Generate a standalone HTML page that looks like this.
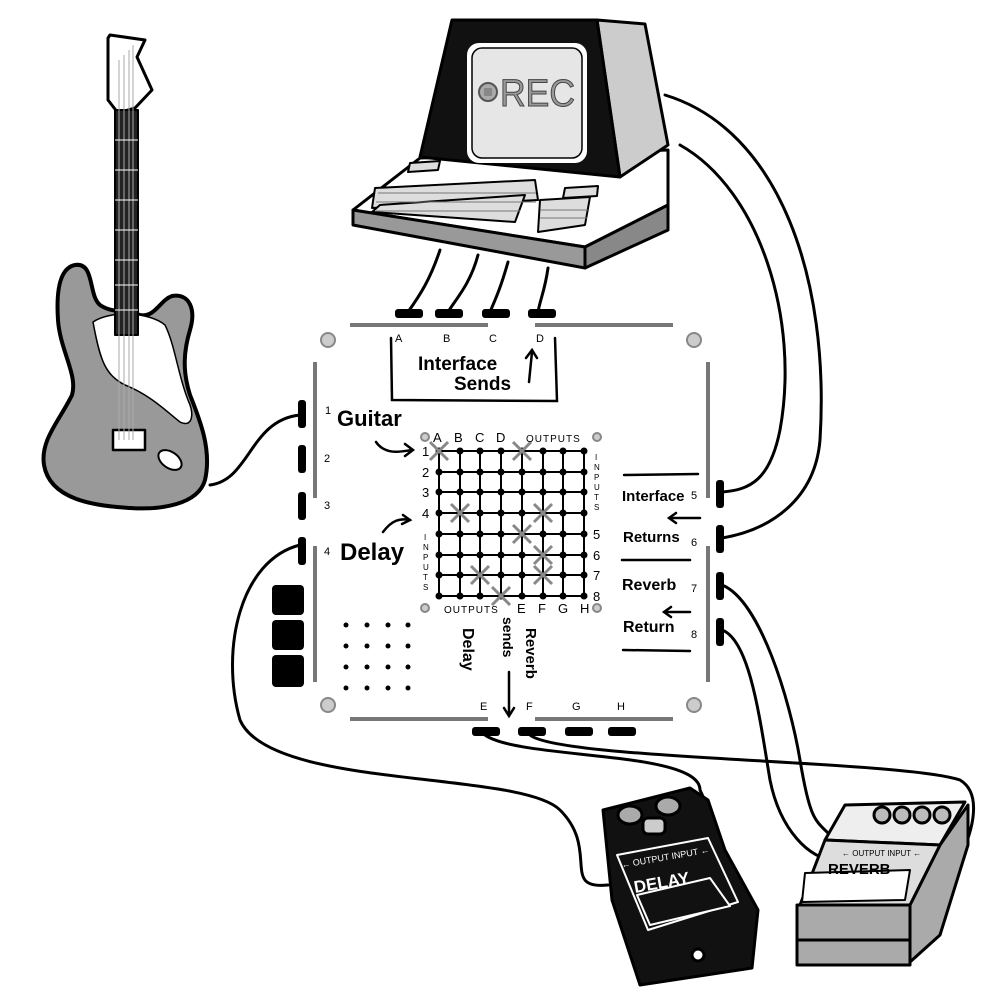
<!DOCTYPE html>
<html><head><meta charset="utf-8"><style>
html,body{margin:0;padding:0;background:#fff}
svg{display:block}
.h{font-family:"Liberation Sans",sans-serif;font-weight:bold}
.s{font-family:"Liberation Sans",sans-serif}
</style></head><body>
<svg width="1000" height="1000" viewBox="0 0 1000 1000" xmlns="http://www.w3.org/2000/svg">
<rect width="1000" height="1000" fill="#fff"/>
<!-- cables -->
<g fill="none" stroke="#000" stroke-width="3" stroke-linecap="round">
<path d="M210,485 C250,480 250,420 300,415"/>
<path d="M440,250 C430,280 420,295 408,312"/>
<path d="M478,255 C470,285 455,300 448,312"/>
<path d="M508,262 C500,290 495,300 490,312"/>
<path d="M548,268 C545,290 540,300 538,312"/>
<path d="M665,95 C780,130 830,280 820,440 C815,500 770,530 722,538"/>
<path d="M680,145 C760,190 800,320 780,430 C770,480 750,490 722,492"/>
<path d="M300,545 C240,560 220,650 240,720 C270,790 520,770 560,810 C600,850 560,890 608,885"/>
<path d="M485,735 C520,760 700,750 700,790 C720,830 700,860 710,840"/>
<path d="M530,735 C560,760 900,760 960,780 C985,795 970,840 958,860"/>
<path d="M722,585 C760,600 790,700 800,760 C810,820 815,820 830,835"/>
<path d="M722,630 C750,640 760,720 770,780 C780,830 810,860 835,860"/>
</g>
<!-- panel -->
<rect x="300" y="318" width="420" height="418" fill="#fff"/>
<g stroke="#777" stroke-width="4">
<line x1="350" y1="325" x2="488" y2="325"/><line x1="535" y1="325" x2="673" y2="325"/>
<line x1="350" y1="719" x2="488" y2="719"/><line x1="535" y1="719" x2="673" y2="719"/>
<line x1="315" y1="362" x2="315" y2="498"/><line x1="315" y1="546" x2="315" y2="682"/>
<line x1="708" y1="362" x2="708" y2="498"/><line x1="708" y1="546" x2="708" y2="682"/>
</g>
<g fill="#ccc" stroke="#888" stroke-width="2">
<circle cx="328" cy="340" r="7"/><circle cx="694" cy="340" r="7"/>
<circle cx="328" cy="705" r="7"/><circle cx="694" cy="705" r="7"/>
<circle cx="425" cy="437" r="4"/><circle cx="597" cy="437" r="4"/>
<circle cx="425" cy="608" r="4"/><circle cx="597" cy="608" r="4"/>
</g>
<!-- jacks -->
<g fill="#000">
<rect x="298" y="400" width="8" height="28" rx="3"/><rect x="298" y="445" width="8" height="28" rx="3"/>
<rect x="298" y="492" width="8" height="28" rx="3"/><rect x="298" y="537" width="8" height="28" rx="3"/>
<rect x="716" y="480" width="8" height="28" rx="3"/><rect x="716" y="525" width="8" height="28" rx="3"/>
<rect x="716" y="572" width="8" height="28" rx="3"/><rect x="716" y="618" width="8" height="28" rx="3"/>
<rect x="395" y="309" width="28" height="9" rx="3"/><rect x="435" y="309" width="28" height="9" rx="3"/>
<rect x="482" y="309" width="28" height="9" rx="3"/><rect x="528" y="309" width="28" height="9" rx="3"/>
<rect x="472" y="727" width="28" height="9" rx="3"/><rect x="518" y="727" width="28" height="9" rx="3"/>
<rect x="565" y="727" width="28" height="9" rx="3"/><rect x="608" y="727" width="28" height="9" rx="3"/>
<rect x="272" y="585" width="32" height="30" rx="4"/><rect x="272" y="620" width="32" height="30" rx="4"/><rect x="272" y="655" width="32" height="32" rx="4"/>
</g>
<!-- grid -->
<g stroke="#000" stroke-width="2">
<line x1="439" y1="451" x2="439" y2="596"/><line x1="460" y1="451" x2="460" y2="596"/><line x1="480" y1="451" x2="480" y2="596"/><line x1="501" y1="451" x2="501" y2="596"/><line x1="522" y1="451" x2="522" y2="596"/><line x1="543" y1="451" x2="543" y2="596"/><line x1="563" y1="451" x2="563" y2="596"/><line x1="584" y1="451" x2="584" y2="596"/>
<line x1="439" y1="451" x2="584" y2="451"/><line x1="439" y1="472" x2="584" y2="472"/><line x1="439" y1="492" x2="584" y2="492"/><line x1="439" y1="513" x2="584" y2="513"/><line x1="439" y1="534" x2="584" y2="534"/><line x1="439" y1="555" x2="584" y2="555"/><line x1="439" y1="575" x2="584" y2="575"/><line x1="439" y1="596" x2="584" y2="596"/>
</g>
<g fill="#000" id="dots">
</g>
<script>
var g=document.getElementById('dots'),xs=[439,460,480,501,522,543,563,584],ys=[451,472,492,513,534,555,575,596];
xs.forEach(function(x){ys.forEach(function(y){var c=document.createElementNS('http://www.w3.org/2000/svg','circle');c.setAttribute('cx',x);c.setAttribute('cy',y);c.setAttribute('r',3.5);g.appendChild(c);});});
var X=[[439,451],[522,451],[460,513],[543,513],[522,534],[543,555],[480,575],[543,575],[501,596]];
X.forEach(function(p){[[1,1],[1,-1]].forEach(function(d){var l=document.createElementNS('http://www.w3.org/2000/svg','line');l.setAttribute('x1',p[0]-9);l.setAttribute('y1',p[1]-9*d[1]);l.setAttribute('x2',p[0]+9);l.setAttribute('y2',p[1]+9*d[1]);l.setAttribute('stroke','#888');l.setAttribute('stroke-width','3');g.appendChild(l);});});
</script>
<g class="s" font-size="13" fill="#000">
<text x="433" y="442">A</text><text x="454" y="442">B</text><text x="475" y="442">C</text><text x="496" y="442">D</text>
<text x="526" y="442" font-size="10" letter-spacing="1">OUTPUTS</text>
<text x="444" y="613" font-size="10" letter-spacing="1">OUTPUTS</text>
<text x="517" y="613">E</text><text x="538" y="613">F</text><text x="558" y="613">G</text><text x="580" y="613">H</text>
<text x="422" y="456">1</text><text x="422" y="477">2</text><text x="422" y="497">3</text><text x="422" y="518">4</text>
<text x="593" y="539">5</text><text x="593" y="560">6</text><text x="593" y="580">7</text><text x="593" y="601">8</text>
<text x="424" y="540" font-size="8">I</text><text x="423" y="550" font-size="8">N</text><text x="423" y="560" font-size="8">P</text><text x="423" y="570" font-size="8">U</text><text x="423" y="580" font-size="8">T</text><text x="423" y="590" font-size="8">S</text>
<text x="595" y="460" font-size="8">I</text><text x="594" y="470" font-size="8">N</text><text x="594" y="480" font-size="8">P</text><text x="594" y="490" font-size="8">U</text><text x="594" y="500" font-size="8">T</text><text x="594" y="510" font-size="8">S</text>
<text x="395" y="342" font-size="11">A</text><text x="443" y="342" font-size="11">B</text><text x="489" y="342" font-size="11">C</text><text x="536" y="342" font-size="11">D</text>
<text x="480" y="710" font-size="11">E</text><text x="526" y="710" font-size="11">F</text><text x="572" y="710" font-size="11">G</text><text x="617" y="710" font-size="11">H</text>
<text x="325" y="414" font-size="11">1</text><text x="324" y="462" font-size="11">2</text><text x="324" y="509" font-size="11">3</text><text x="324" y="555" font-size="11">4</text>
<text x="691" y="499" font-size="11">5</text><text x="691" y="546" font-size="11">6</text><text x="691" y="592" font-size="11">7</text><text x="691" y="638" font-size="11">8</text>
</g>
<!-- handwritten labels -->
<g class="h" fill="#000">
<text x="337" y="426" font-size="22">Guitar</text>
<text x="340" y="560" font-size="24">Delay</text>
<text x="418" y="370" font-size="19">Interface</text>
<text x="454" y="390" font-size="19">Sends</text>
<text x="622" y="501" font-size="15">Interface</text>
<text x="623" y="542" font-size="15">Returns</text>
<text x="622" y="590" font-size="16">Reverb</text>
<text x="623" y="632" font-size="16">Return</text>
<text transform="translate(463,628) rotate(90)" font-size="16">Delay</text>
<text transform="translate(503,617) rotate(90)" font-size="14">sends</text>
<text transform="translate(526,628) rotate(90)" font-size="15">Reverb</text>
</g>
<g fill="none" stroke="#000" stroke-width="2.5" stroke-linecap="round">
<path d="M391,338 L392,400 L557,401 L555,338"/>
<path d="M376,442 C385,455 400,452 412,450"/><path d="M405,444 L413,450 L405,456"/>
<path d="M383,532 C392,520 400,518 410,520"/><path d="M403,515 L410,520 L402,524"/>
<path d="M529,382 L532,352"/><path d="M526,358 L532,350 L537,358"/>
<path d="M509,672 L509,715"/><path d="M504,708 L509,716 L514,708"/>
<path d="M700,518 L670,518"/><path d="M676,513 L669,518 L676,523"/>
<path d="M690,612 L665,612"/><path d="M671,607 L664,612 L671,617"/>
<line x1="624" y1="475" x2="698" y2="474"/><line x1="622" y1="560" x2="690" y2="560"/><line x1="623" y1="650" x2="690" y2="651"/>
</g>
<g fill="#000">
<circle cx="346" cy="625" r="2.5"/><circle cx="367" cy="625" r="2.5"/><circle cx="388" cy="625" r="2.5"/><circle cx="408" cy="625" r="2.5"/>
<circle cx="346" cy="646" r="2.5"/><circle cx="367" cy="646" r="2.5"/><circle cx="388" cy="646" r="2.5"/><circle cx="408" cy="646" r="2.5"/>
<circle cx="346" cy="667" r="2.5"/><circle cx="367" cy="667" r="2.5"/><circle cx="388" cy="667" r="2.5"/><circle cx="408" cy="667" r="2.5"/>
<circle cx="346" cy="688" r="2.5"/><circle cx="367" cy="688" r="2.5"/><circle cx="388" cy="688" r="2.5"/><circle cx="408" cy="688" r="2.5"/>
</g>
<!-- computer -->
<g stroke="#000" stroke-width="3" stroke-linejoin="round">
<polygon points="353,210 420,158 668,150 668,205 585,247" fill="#fff"/>
<polygon points="353,210 585,247 585,268 353,225" fill="#999"/>
<polygon points="585,247 668,205 668,230 585,268" fill="#888"/>
<polygon points="597,20 645,24 668,145 620,177" fill="#ccc"/>
<polygon points="452,20 597,20 620,177 420,157" fill="#111"/>
<rect x="467" y="43" width="120" height="120" rx="12" fill="#fff" stroke="none"/>
<rect x="472" y="48" width="110" height="110" rx="10" fill="#e6e6e6" stroke="#000" stroke-width="1.5"/>
<polygon points="375,188 535,180 538,200 372,208" fill="#ddd" stroke-width="2"/>
<polygon points="380,205 525,195 515,222 372,212" fill="#ddd" stroke-width="2"/>
<polygon points="540,200 590,197 585,225 538,232" fill="#ddd" stroke-width="2"/>
<polygon points="410,163 440,161 438,170 408,172" fill="#ddd" stroke-width="2"/>
<polygon points="565,188 598,186 597,196 563,198" fill="#ddd" stroke-width="2"/>
</g>
<g stroke="#777" stroke-width="1"><path d="M378,193 H536 M376,202 H536 M376,211 H520 M540,210 H588 M540,218 H587"/></g>
<circle cx="488" cy="92" r="9" fill="#aaa" stroke="#555" stroke-width="2"/>
<rect x="484" y="88" width="8" height="8" fill="#888"/>
<text x="500" y="106" class="s" font-size="38" fill="#999" stroke="#444" stroke-width="1" textLength="75" lengthAdjust="spacingAndGlyphs">REC</text>
<!-- guitar -->
<g stroke="#000" stroke-linejoin="round">
<path d="M110,35 L145,40 L137,57 L152,90 L135,108 L118,113 L108,100 L108,38 Z" fill="#fff" stroke-width="3"/>
<path d="M75,265 C95,262 88,295 100,305 C110,312 120,310 140,315 C155,318 160,300 172,296 C190,293 196,310 190,330 C184,350 182,370 190,395 C200,420 212,450 205,480 C198,505 160,510 130,508 C95,506 50,500 44,465 C40,440 60,420 72,395 C78,375 60,350 58,320 C56,290 60,268 75,265 Z" fill="#999" stroke-width="4"/>
<path d="M93,322 C110,310 150,312 165,325 C175,345 178,375 188,400 C195,415 192,428 180,422 C165,410 150,395 125,385 C105,375 100,360 93,322 Z" fill="#fff" stroke-width="1.5"/>
<rect x="115" y="110" width="23" height="225" fill="#222" stroke-width="2"/>
<rect x="113" y="430" width="32" height="20" fill="#fff" stroke-width="2.5"/>
<ellipse cx="170" cy="460" rx="13" ry="8" transform="rotate(35 170 460)" fill="#fff" stroke-width="2"/>
</g>
<g stroke="#aaa" stroke-width="1"><path d="M119,60 V440 M124,55 V440 M129,50 V440 M133,45 V440"/></g>
<g stroke="#fff" stroke-width="1"><path d="M115,140 H138 M115,170 H138 M115,200 H138 M115,230 H138 M115,260 H138 M115,285 H138 M115,310 H138"/></g>
<!-- delay pedal -->
<g stroke="#000" stroke-width="3" stroke-linejoin="round">
<polygon points="603,810 690,788 708,800 725,850 758,910 752,968 640,985 612,900" fill="#111"/>
<polygon points="617,855 708,838 738,902 648,930" fill="#111" stroke="#fff" stroke-width="2"/>
<polygon points="637,895 710,878 730,906 650,925" fill="#111" stroke="#fff" stroke-width="2"/>
<ellipse cx="630" cy="815" rx="12" ry="9" fill="#aaa"/><ellipse cx="668" cy="806" rx="12" ry="9" fill="#aaa"/>
<rect x="643" y="818" width="22" height="16" rx="5" fill="#ccc"/>
<circle cx="698" cy="955" r="6" fill="#fff"/>
</g>
<text x="622" y="868" class="s" font-size="9" fill="#fff" transform="rotate(-10 622 868)">← OUTPUT INPUT ←</text>
<text x="635" y="893" class="h" font-size="17" fill="#fff" transform="rotate(-10 635 893)">DELAY</text>
<!-- reverb pedal -->
<g stroke="#000" stroke-width="3" stroke-linejoin="round">
<polygon points="845,805 965,802 940,845 825,840" fill="#eee"/>
<polygon points="910,905 910,962 940,935 968,845 968,805 940,845" fill="#aaa"/>
<polygon points="825,840 940,845 910,905 800,905" fill="#ddd"/>
<polygon points="805,873 910,870 905,900 802,902" fill="#fff" stroke-width="2"/>
<rect x="797" y="905" width="113" height="60" fill="#aaa"/>
<line x1="797" y1="940" x2="910" y2="940"/>
<circle cx="882" cy="815" r="8" fill="#bbb"/><circle cx="902" cy="815" r="8" fill="#bbb"/><circle cx="922" cy="815" r="8" fill="#bbb"/><circle cx="942" cy="815" r="8" fill="#bbb"/>
</g>
<text x="842" y="856" class="s" font-size="8" fill="#000">← OUTPUT INPUT ←</text>
<text x="828" y="874" class="h" font-size="15" fill="#000">REVERB</text>
</svg>
</body></html>
